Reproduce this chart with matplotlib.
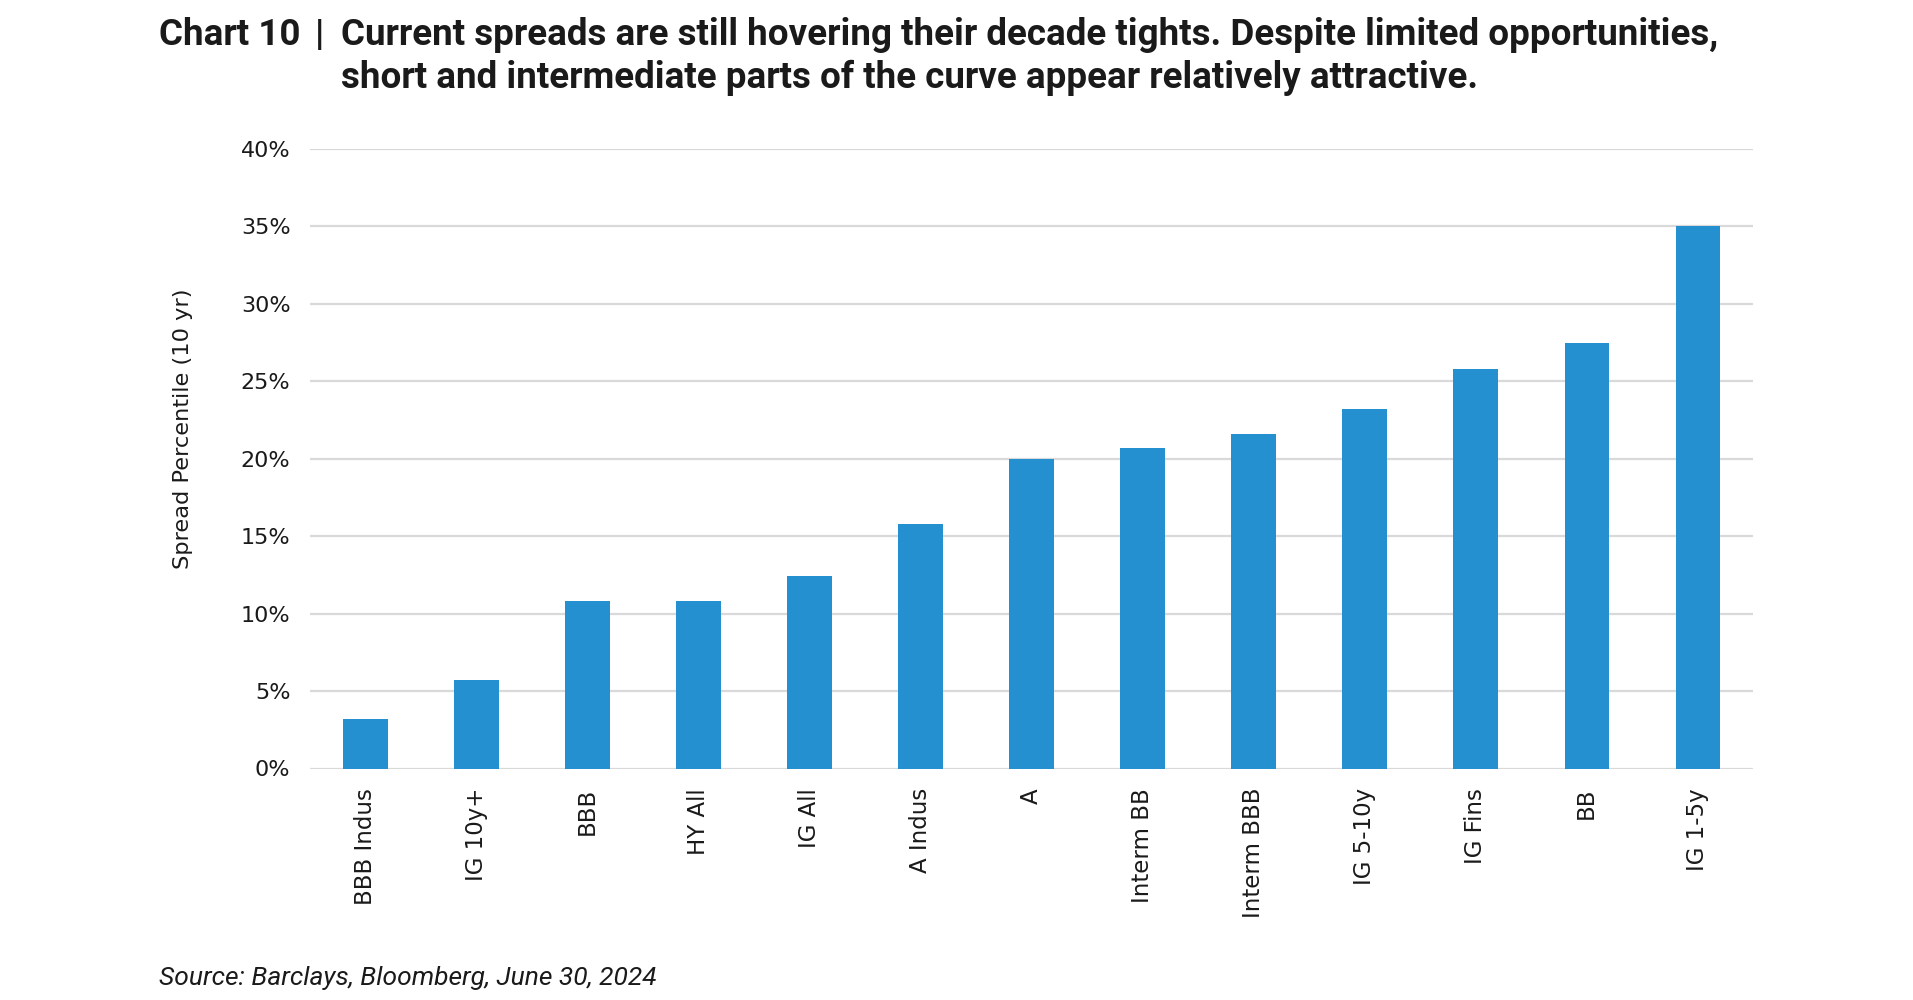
import matplotlib
matplotlib.use('Agg')
from matplotlib import pyplot as plt
from matplotlib.ticker import FuncFormatter

# data
categories = ['BBB Indus', 'IG 10y+', 'BBB', 'HY All', 'IG All', 'A Indus', 'A',
              'Interm BB', 'Interm BBB', 'IG 5-10y', 'IG Fins', 'BB', 'IG 1-5y']
percentiles = [3.2, 5.7, 10.8, 10.8, 12.4, 15.8, 20.0, 20.7, 21.6, 23.2, 25.8, 27.5, 35.0]
y_ticks = [0, 5, 10, 15, 20, 25, 30, 35, 40]

title_tag = 'Chart 10'
title_lines = ['Current spreads are still hovering their decade tights. Despite limited opportunities,',
               'short and intermediate parts of the curve appear relatively attractive.']
source = 'Source: Barclays, Bloomberg, June 30, 2024'

bar_color = '#2490D0'
grid_color = '#D9D9D9'
text_color = '#1A1A1A'

fig = plt.figure(figsize=(19.13, 10), dpi=100)
ax = fig.add_axes([0.162, 0.2315, 0.7545, 0.6195])

x = list(range(len(categories)))
ax.bar(x, percentiles, width=0.4, color=bar_color, zorder=3)

ax.set_xlim(-0.5, len(categories) - 0.5)
ax.set_ylim(0, 40)
ax.set_yticks(y_ticks)
ax.yaxis.set_major_formatter(FuncFormatter(lambda v, p: '{:.0f}%'.format(v)))
ax.grid(axis='y', color=grid_color, linewidth=1.6, zorder=0)
ax.set_axisbelow(True)

for s in ax.spines.values():
    s.set_visible(False)

ax.tick_params(axis='both', length=0, colors=text_color)
ax.tick_params(axis='y', pad=14, labelsize=16)
ax.tick_params(axis='x', pad=14, labelsize=16.5)
ax.set_xticks(x)
ax.set_xticklabels(categories, rotation=90, va='top', ha='center')

ax.set_ylabel('Spread Percentile (10 yr)', fontsize=16.2, color=text_color)
ax.yaxis.set_label_coords(-0.081, 0.548)

# title block
fs_title = 26.5
fig.text(159 / 1913, 1 - 45 / 1000, title_tag, fontsize=fs_title, fontweight='bold',
         family='Roboto', color=text_color, va='baseline', ha='left')
fig.text(319 / 1913, 1 - 45 / 1000, '|', fontsize=fs_title, fontweight='bold',
         family='Roboto', color=text_color, va='baseline', ha='center')
fig.text(341 / 1913, 1 - 45 / 1000, title_lines[0], fontsize=fs_title, fontweight='bold',
         family='Roboto', color=text_color, va='baseline', ha='left')
fig.text(341 / 1913, 1 - 88 / 1000, title_lines[1], fontsize=fs_title, fontweight='bold',
         family='Roboto', color=text_color, va='baseline', ha='left')

fig.text(159 / 1913, 1 - 978 / 1000, source, fontsize=19, style='italic',
         family='Roboto', color=text_color, va='center', ha='left')

plt.savefig('out.png', dpi=100)
